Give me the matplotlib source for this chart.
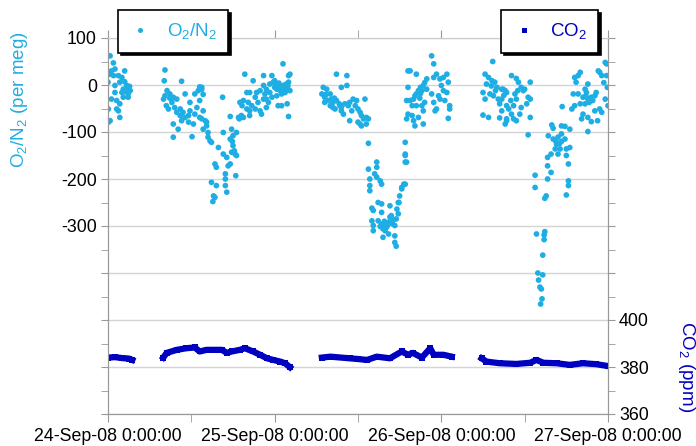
import matplotlib
matplotlib.use('Agg')
import matplotlib.pyplot as plt
from matplotlib.lines import Line2D
from matplotlib.ticker import FixedLocator, FuncFormatter

plt.rcParams['font.family'] = ['Liberation Sans', 'DejaVu Sans']
plt.rcParams['mathtext.fontset'] = 'custom'
plt.rcParams['mathtext.rm'] = 'Liberation Sans'

O2_COLOR = '#1eaee4'
CO2_COLOR = '#0000c0'

# O2/N2 in per meg, as (hours since 24-Sep-08 0:00, value)
o2_seg1 = [(0.3, 62), (0.77, 47), (0.5, 30), (1.0, 34), (0.3, 23), (0.0, 6), (0.8, 20), (1.5, 20),
           (2.0, 16), (2.4, 30), (1.7, 6), (2.4, 7), (1.0, -1), (2.2, -9), (2.7, -9), (3.2, -12),
           (2.9, -19), (2.0, -16), (1.0, -16), (0.5, -30), (1.25, -33), (1.7, -40), (0.05, -51),
           (1.25, -51), (1.5, -55), (1.7, -69), (0.3, -76), (0.05, -79), (2.2, -26), (2.9, -26),
           (2.7, -1), (3.1, -3), (2.5, -14), (2.8, -14), (3.0, -6)]

o2_seg2 = [(8.2, 32), (8.1, 9), (10.6, 8), (8.5, -12), (8.9, -19), (8.0, -30), (9.4, -26), (9.9, -30),
           (9.2, -37), (8.4, -44), (8.7, -51), (9.6, -48), (10.4, -51), (11.1, -19), (11.8, -37),
           (12.5, -19), (13.0, -12), (13.5, -5), (13.2, -33), (10.8, -58), (11.6, -65), (12.5, -62),
           (13.2, -69), (13.7, -55), (14.2, -79), (12.3, -83), (11.6, -79), (10.6, -76), (11.1, -69),
           (10.4, -65), (9.9, -58), (11.8, -55), (12.8, -48), (8.2, -23), (8.9, -28), (10.1, -94),
           (9.4, -111), (12.1, -110), (9.4, -83), (13.2, -4), (13.7, -20), (13.5, -9),
           # dip
           (13.5, -72), (14.0, -76), (14.2, -87), (13.7, -94), (14.4, -101), (14.4, -111), (14.7, -119),
           (14.9, -122), (15.9, -133), (15.4, -168), (15.6, -175), (14.9, -207), (15.6, -214),
           (15.2, -236), (15.4, -239), (15.1, -248), (16.6, -147), (17.1, -154), (16.9, -189),
           (16.9, -200), (16.9, -214), (17.1, -228), (16.6, -101), (17.3, -172), (17.6, -168),
           (17.8, -143), (18.0, -129), (18.3, -147), (17.6, -115), (18.0, -108), (18.5, -101),
           (17.8, -94), (18.4, -193), (16.5, -26), (17.6, -67), (18.5, -150), (17.9, -120), (18.2, -140),
           # recovery
           (18.8, -69), (19.2, -65), (18.9, -72), (19.5, -69), (19.0, -37), (19.5, -33), (19.3, -44),
           (19.7, 23), (20.0, -16), (20.4, -16), (20.2, -37), (20.0, -51), (20.4, -65), (20.7, -44),
           (20.9, 9), (21.2, -26), (21.2, -51), (21.6, -37), (21.4, -16), (21.9, -12), (22.1, -62),
           (22.4, -1), (22.4, -30), (22.8, -30), (23.1, -37), (22.6, -19), (22.8, -9), (23.3, 2),
           (23.6, 20), (22.4, 20), (23.8, 6), (24.0, -5), (24.3, -9), (24.5, -1), (24.8, -12),
           (25.0, -19), (25.2, -9), (25.5, -16), (25.8, -9), (25.7, 2), (26.0, 6), (26.2, 23),
           (25.2, 45), (24.5, -44), (25.0, -44), (26.0, -67), (25.8, -40), (26.2, -12), (23.3, -16),
           (23.6, -26), (22.8, -48), (21.9, -55), (24.3, -23), (24.8, -1), (24.0, 9), (20.4, -55),
           (26.0, 20), (24.6, 4), (25.4, 0), (24.2, 1), (25.9, -2)]

o2_seg3 = [(32.9, 23), (34.4, 20), (33.6, -5), (34.4, -1), (31.0, -5), (31.5, -9), (30.8, -19),
           (31.2, -26), (32.0, -19), (31.7, -33), (32.2, -30), (32.4, -37), (31.2, -37), (32.9, -33),
           (32.7, -51), (33.4, -44), (33.6, -55), (33.9, -62), (34.1, -40), (34.6, -44), (34.8, -37),
           (35.3, -30), (35.8, -33), (35.6, -44), (35.1, -55), (34.8, -76), (36.0, -51), (36.3, -58),
           (36.5, -65), (37.0, -30), (36.8, -72), (37.2, -69), (37.5, -72), (36.3, -83), (37.2, -83),
           (36.0, -79), (36.5, -87), (33.3, -40), (32.0, -44), (32.4, -48), (33.6, -48), (31.4, -20),
           (32.6, -28),
           # dip
           (37.5, -124), (37.5, -179), (37.7, -200), (37.7, -214), (37.7, -225), (38.7, -164),
           (38.7, -175), (38.4, -189), (38.7, -196), (39.2, -204), (39.4, -211), (38.9, -250),
           (39.4, -253), (38.0, -262), (38.2, -267), (39.4, -271), (40.6, -257), (40.8, -278),
           (41.6, -264), (41.8, -250), (42.0, -236), (42.3, -218), (42.8, -211), (42.8, -122),
           (42.8, -147), (42.8, -164), (38.0, -289), (38.2, -299), (38.2, -310), (38.9, -289),
           (39.2, -301), (39.6, -306), (39.9, -310), (40.1, -303), (40.4, -292), (40.6, -281),
           (40.8, -285), (41.0, -289), (41.3, -299), (41.5, -285), (41.8, -274), (41.3, -321),
           (41.3, -335), (41.5, -343), (39.6, -324), (40.4, -317), (39.4, -296), (41.9, -250),
           (42.3, -221), (42.6, -211), (42.8, -150), (43.0, -164), (40.0, -295), (40.2, -300),
           (39.8, -290), (40.9, -295),
           # recovery
           (43.2, 30), (43.2, -5), (43.0, -33), (43.0, -72), (46.6, 62), (46.9, 45), (43.5, 30),
           (44.4, 23), (46.9, 16), (47.3, 23), (47.8, 13), (48.3, 16), (48.8, 23), (49.0, 6),
           (48.0, -1), (48.3, -12), (48.8, -16), (47.6, -23), (47.8, -30), (48.5, -33), (49.2, -44),
           (49.2, -51), (49.0, -71), (47.3, -51), (47.1, -55), (46.9, -37), (46.6, -19), (45.9, -9),
           (45.4, -1), (45.2, -12), (45.0, -5), (44.7, -12), (44.4, -19), (44.2, -23), (44.0, -30),
           (43.5, -33), (43.8, -44), (44.4, -44), (45.2, -44), (45.6, -37), (45.4, -55), (43.2, -62),
           (44.0, -76), (44.2, -87), (45.4, -83), (43.8, -65), (44.7, -69), (45.9, 13), (45.6, 5),
           (44.9, -28), (45.0, -18)]

o2_seg4 = [(55.4, 50), (54.3, 23), (54.8, 16), (55.3, 9), (54.5, 2), (55.7, 6), (56.0, -5), (56.7, -9),
           (57.2, -12), (54.0, -16), (55.0, -19), (55.5, -23), (54.3, -30), (56.2, -30), (56.4, -40),
           (57.4, -44), (56.7, -55), (54.0, -64), (54.8, -69), (56.4, -70), (57.4, -76), (58.1, 20),
           (58.8, 14), (59.1, 6), (59.5, -5), (59.8, -12), (60.0, -9), (60.8, 6), (60.5, -26),
           (60.8, -30), (60.3, -40), (59.5, -48), (60.8, -69), (58.8, -76), (58.4, -72), (57.2, -83),
           (57.4, -72), (57.7, -51), (58.0, -33), (56.9, -9), (56.7, -30), (58.4, -44), (58.8, -30),
           (58.6, -19), (58.1, -62), (59.3, -62), (60.5, -106), (57.4, -16), (55.8, -12), (55.2, -2),
           (57.0, -22), (59.0, -12),
           # dip
           (65.4, -46), (63.9, -85), (64.1, -92), (65.3, -87), (65.8, -88), (66.5, -94), (63.4, -108),
           (64.1, -115), (64.8, -111), (65.3, -104), (65.8, -115), (64.6, -126), (65.1, -136),
           (64.4, -136), (63.8, -147), (63.3, -154), (64.8, -147), (66.0, -136), (66.5, -133),
           (66.0, -150), (66.3, -168), (65.3, -120), (63.3, -172), (63.8, -186), (61.5, -192),
           (63.3, -200), (61.5, -218), (63.1, -236), (62.9, -241), (66.3, -204), (66.3, -214),
           (66.0, -234), (61.7, -317), (62.9, -312), (62.8, -319), (62.8, -329), (62.6, -362),
           (61.9, -400), (62.6, -404), (62.0, -415), (62.2, -430), (62.4, -434), (62.5, -455),
           (62.3, -466), (64.5, -120), (65.0, -125),
           # recovery
           (68.0, 27), (67.7, 20), (67.2, 16), (67.4, 6), (69.1, 2), (68.7, -9), (68.9, -16), (67.0, -19),
           (67.7, -19), (68.4, -26), (69.1, -30), (69.6, -26), (70.1, -23), (70.3, -16), (70.8, 27),
           (70.6, 30), (71.1, 20), (71.8, 45), (71.8, 20), (71.6, -30), (72.0, -44), (69.8, -33),
           (69.3, -37), (68.7, -40), (68.0, -40), (67.2, -44), (66.8, -51), (68.4, -62), (68.2, -72),
           (69.1, -69), (69.6, -78), (70.1, -55), (70.8, -51), (71.1, -58), (69.1, -99), (70.5, -76),
           (71.6, 48), (68.8, -24), (69.4, -28), (71.4, 5), (71.9, -5)]

# CO2 in ppm, as (hours, value); the four sampling periods
co2_seg1 = [(0.0, 384.0), (1.0, 384.2), (2.0, 383.8), (3.0, 383.6), (3.5, 383.0)]
co2_seg2 = [(7.96, 384.0), (8.45, 386.0), (9.9, 387.3), (11.3, 388.0), (12.5, 388.3), (13.2, 386.6),
            (14.2, 387.3), (15.4, 387.3), (16.4, 387.3), (17.1, 386.0), (17.8, 386.6), (19.0, 387.3),
            (19.7, 388.0), (20.9, 386.6), (21.9, 385.2), (22.9, 383.7), (23.8, 383.0), (24.8, 382.3),
            (25.5, 381.6), (26.2, 379.9)]
co2_seg3 = [(30.8, 384.0), (32.0, 384.4), (34.8, 383.7), (36.0, 383.4), (37.3, 383.0), (38.7, 384.4),
            (40.6, 383.7), (42.3, 386.6), (43.2, 385.2), (43.9, 386.0), (45.2, 384.0), (46.4, 388.0),
            (46.9, 385.2), (48.3, 385.2), (49.5, 384.4)]
co2_seg4 = [(53.8, 383.7), (54.5, 382.3), (56.4, 381.6), (58.8, 381.3), (60.8, 381.8), (61.7, 383.0),
            (62.7, 381.8), (64.6, 381.6), (66.5, 380.9), (68.4, 381.6), (70.3, 381.2), (72.0, 380.4)]

x_tick_hours = [0, 24, 48, 72]
x_tick_labels = ['24-Sep-08 0:00:00', '25-Sep-08 0:00:00', '26-Sep-08 0:00:00', '27-Sep-08 0:00:00']

fig = plt.figure(figsize=(6.96, 4.46), dpi=100)
ax = fig.add_axes([108 / 696, 32 / 446, 500 / 696, 376 / 446])

o2_all = o2_seg1 + o2_seg2 + o2_seg3 + o2_seg4
ax.scatter([p[0] for p in o2_all], [p[1] for p in o2_all], s=17, color=O2_COLOR,
           edgecolors='none', zorder=3)

ax.set_xlim(0, 72)
ax.set_ylim(-700, 100)
ax.yaxis.set_major_locator(FixedLocator(range(-700, 101, 100)))
ax.yaxis.set_minor_locator(FixedLocator(range(-650, 100, 100)))
ax.yaxis.set_major_formatter(FuncFormatter(lambda v, p: '%d' % v if v >= -300 else ''))
ax.set_xticks(x_tick_hours)
ax.set_xticklabels(x_tick_labels)
ax.set_xticks([12, 36, 60], minor=True)
ax.grid(axis='y', color='#d4d4d4', lw=1)
ax.set_axisbelow(True)
ax.tick_params(axis='y', which='both', direction='out', length=5, color='#999999',
               labelsize=12.8, pad=3)
ax.tick_params(axis='x', which='both', direction='out', length=6, color='#999999',
               labelsize=12.8, pad=4, top=True)

ax2 = ax.twinx()
for seg in [co2_seg1, co2_seg2, co2_seg3, co2_seg4]:
    ax2.plot([p[0] for p in seg], [p[1] for p in seg], '-s', color=CO2_COLOR, lw=4.5, ms=4.5,
             markeredgewidth=0)
ax2.set_ylim(360, 520)
ax2.yaxis.set_major_locator(FixedLocator(range(360, 521, 20)))
ax2.yaxis.set_minor_locator(FixedLocator(range(370, 520, 20)))
ax2.yaxis.set_major_formatter(FuncFormatter(lambda v, p: '%d' % v if v <= 400 else ''))
ax2.tick_params(axis='y', which='both', direction='out', length=5, color='#999999',
                labelsize=12.8, pad=3)

for a in (ax, ax2):
    for side in ('left', 'right', 'bottom'):
        a.spines[side].set_color('#999999')
    a.spines['top'].set_color('#cccccc')

fig.text(20 / 696, 1 - 100 / 446, r'$\mathregular{O_2/N_2}$ (per meg)', rotation=90,
         ha='center', va='center', color=O2_COLOR, fontsize=13.5)
fig.text(686 / 696, 1 - 367 / 446, r'$\mathregular{CO_2}$ (ppm)', rotation=-90,
         ha='center', va='center', color=CO2_COLOR, fontsize=13.5)

h1 = Line2D([], [], ls='none', marker='o', ms=3.6, color=O2_COLOR, markeredgewidth=0)
h2 = Line2D([], [], ls='none', marker='s', ms=3.6, color=CO2_COLOR, markeredgewidth=0)
shadow = {'color': 'black', 'alpha': 1}
leg1 = fig.legend([h1], [r'$\mathregular{O_2/N_2}$'], loc='upper left',
                  bbox_to_anchor=(118 / 696, 1 - 10 / 446), fancybox=False, shadow=shadow,
                  framealpha=1, edgecolor='black', fontsize=13.5, labelcolor=O2_COLOR,
                  handlelength=1.2, borderpad=0.6, borderaxespad=0)
leg1.get_frame().set_linewidth(1.2)
leg2 = fig.legend([h2], [r'$\mathregular{CO_2}$'], loc='upper right',
                  bbox_to_anchor=(598 / 696, 1 - 10 / 446), fancybox=False, shadow=shadow,
                  framealpha=1, edgecolor='black', fontsize=13.5, labelcolor=CO2_COLOR,
                  handlelength=1.2, borderpad=0.6, borderaxespad=0)
leg2.get_frame().set_linewidth(1.2)

fig.savefig('out.png', dpi=100)
